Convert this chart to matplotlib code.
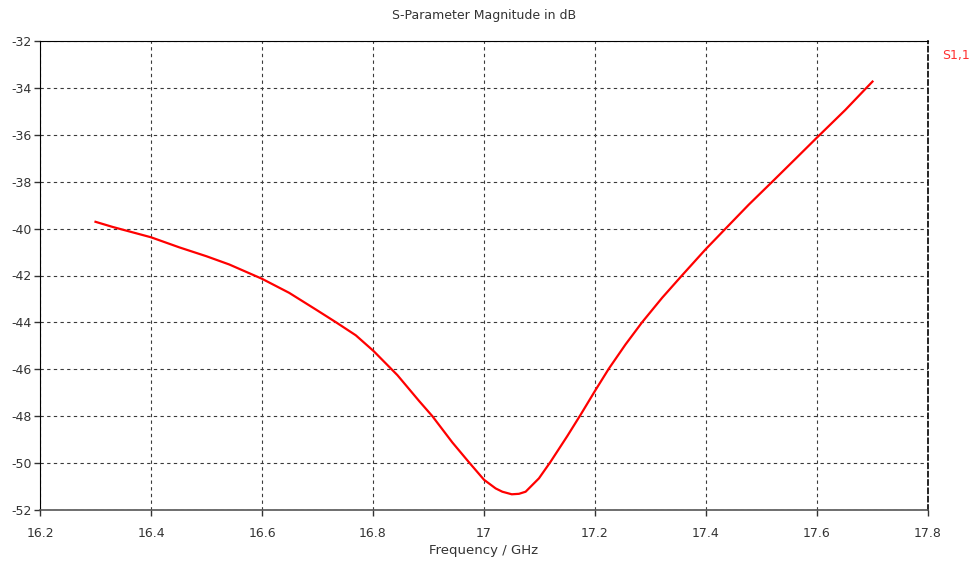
import matplotlib
matplotlib.use('Agg')
import matplotlib.pyplot as plt

# S1,1 magnitude
freq_ghz = [16.300, 16.331, 16.400, 16.451, 16.500, 16.541, 16.600, 16.649, 16.697, 16.733,
            16.769, 16.801, 16.844, 16.883, 16.907, 16.943, 16.972, 17.000, 17.021, 17.033,
            17.050, 17.063, 17.075, 17.099, 17.120, 17.150, 17.174, 17.200, 17.225, 17.255,
            17.285, 17.321, 17.357, 17.399, 17.441, 17.477, 17.519, 17.561, 17.599, 17.651,
            17.689, 17.700]
s11_db = [-39.71, -39.93, -40.37, -40.80, -41.18, -41.53, -42.14, -42.74, -43.45, -43.99,
          -44.55, -45.22, -46.25, -47.35, -48.00, -49.12, -49.94, -50.71, -51.08, -51.22,
          -51.33, -51.31, -51.22, -50.65, -49.94, -48.85, -47.94, -46.92, -45.97, -44.94,
          -43.99, -42.95, -41.99, -40.89, -39.86, -38.98, -38.01, -37.03, -36.14, -34.94,
          -34.00, -33.73]

xticks = [16.2, 16.4, 16.6, 16.8, 17.0, 17.2, 17.4, 17.6, 17.8]
xticklabels = ['16.2', '16.4', '16.6', '16.8', '17', '17.2', '17.4', '17.6', '17.8']
yticks = [-52, -50, -48, -46, -44, -42, -40, -38, -36, -34, -32]

labelsize = 9

fig = plt.figure(figsize=(9.76, 5.63), dpi=100)
ax = fig.add_axes([40/976, 1-510/563, (928-40)/976, (510-41)/563])

ax.plot(freq_ghz, s11_db, color='#ff0000', lw=1.6, solid_joinstyle='round')

ax.set_xlim(16.2, 17.8)
ax.set_ylim(-52, -32)
ax.set_xticks(xticks)
ax.set_xticklabels(xticklabels)
ax.set_yticks(yticks)
ax.set_yticklabels([str(v) for v in yticks])
ax.tick_params(axis='both', direction='out', length=4, width=1, labelsize=labelsize,
               colors='#333333')
ax.tick_params(axis='x', pad=8)
ax.tick_params(axis='y', pad=2)

ax.grid(True, color='#3a3a3a', linestyle=(0, (3, 3)), linewidth=0.8)

ax.spines['left'].set_color('black')
ax.spines['top'].set_color('black')
ax.spines['bottom'].set_color('#555555')
ax.spines['bottom'].set_linewidth(1.2)
ax.spines['right'].set_color('black')
ax.spines['right'].set_linestyle((0, (3, 2)))
ax.spines['right'].set_linewidth(1.2)

ax.set_title('S-Parameter Magnitude in dB', fontsize=labelsize, color='#333333', pad=16)
ax.set_xlabel('Frequency / GHz', fontsize=labelsize+0.5, color='#333333', labelpad=3)

fig.text(956/976, 1-55/563, 'S1,1', color='#ff3030', fontsize=labelsize, ha='center', va='center')

plt.savefig('out.png', dpi=100)
